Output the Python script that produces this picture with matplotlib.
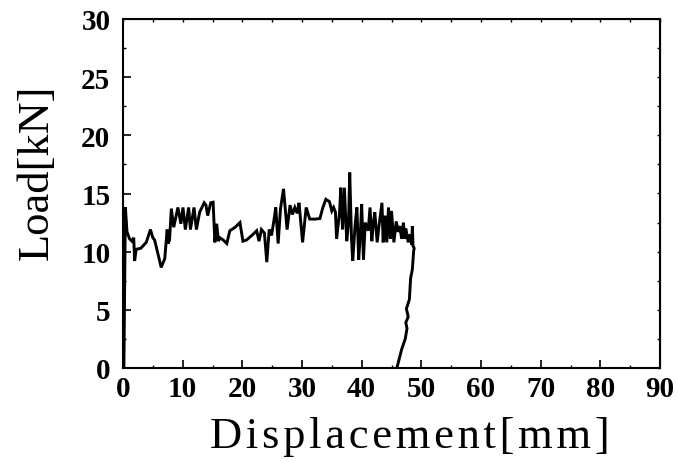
import matplotlib
matplotlib.use("Agg")
import matplotlib.pyplot as plt
from matplotlib.ticker import MultipleLocator

# Data (displacement [mm], load [kN])
disp = [0.15, 0.3, 0.4, 0.67, 1.1, 1.5, 1.8, 1.95, 2.2, 3.0, 3.9, 4.6, 5.0, 5.3, 6.4, 7.0, 7.4, 7.55,
        7.8, 8.1, 8.5, 9.2, 9.7, 10.05, 10.45, 11.0, 11.3, 11.9, 12.3, 12.85, 13.6, 13.9, 14.2, 14.7,
        15.1, 15.4, 15.7, 16.0, 16.2, 16.8, 17.4, 17.9, 18.8, 19.6, 20.1, 20.7, 21.6, 22.4, 22.8, 23.2,
        23.7, 24.1, 24.5, 24.9, 25.3, 25.6, 26.0, 26.4, 26.9, 27.5, 28.0, 28.4, 28.8, 29.2, 29.5, 30.1,
        30.7, 31.0, 31.3, 32.2, 33.0, 33.5, 34.0, 34.6, 35.0, 35.3, 35.6, 35.8, 36.3, 36.5, 36.8, 37.1,
        37.5, 37.8, 38.0, 38.3, 38.5, 38.9, 39.2, 39.5, 39.8, 40.0, 40.3, 40.6, 41.1, 41.4, 41.7, 41.95,
        42.2, 42.6, 42.9, 43.4, 43.6, 43.9, 44.2, 44.5, 44.8, 45.0, 45.4, 45.8, 46.1, 46.4, 46.7, 47.0,
        47.2, 47.4, 47.8, 48.1, 48.4, 48.5, 48.6, 48.8, 48.7, 48.5, 48.2, 48.0, 47.5, 47.8, 47.4, 47.6,
        47.3, 46.7, 46.3, 46.6, 46.2, 45.9]
load = [0.0, 8.0, 13.8, 11.7, 11.1, 10.9, 11.2, 9.2, 10.2, 10.3, 10.8, 11.9, 11.2, 11.0, 8.65, 9.4, 11.9, 10.7,
        11.0, 13.7, 12.1, 13.8, 12.4, 13.8, 11.9, 13.8, 11.9, 13.8, 11.9, 13.4, 14.2, 14.0, 13.1, 14.2,
        14.25, 10.8, 12.4, 10.9, 11.2, 11.0, 10.7, 11.8, 12.1, 12.5, 10.9, 11.0, 11.4, 11.8, 10.9, 11.9,
        11.6, 9.1, 11.9, 11.4, 12.7, 13.8, 10.7, 13.7, 15.4, 11.9, 14.0, 13.2, 13.8, 13.3, 14.2, 10.8,
        13.8, 13.3, 12.8, 12.8, 12.85, 13.8, 14.5, 14.3, 13.5, 13.8, 13.4, 11.1, 13.4, 15.5, 11.9, 15.5,
        10.9, 12.5, 16.8, 11.1, 9.2, 12.3, 13.8, 9.3, 11.8, 14.1, 9.3, 12.5, 11.8, 13.8, 10.9, 12.4,
        13.4, 10.8, 12.2, 14.2, 10.8, 13.1, 10.8, 13.8, 11.1, 13.5, 10.8, 12.6, 11.7, 12.2, 11.1, 12.5,
        11.1, 12.0, 10.8, 11.5, 10.6, 12.2, 10.5, 10.3, 10.0, 8.5, 7.7, 5.9, 5.1, 4.4, 3.9, 3.4,
        2.5, 1.6, 0.8, 1.4, 0.6, 0.0]

x_ticks = [0, 10, 20, 30, 40, 50, 60, 70, 80, 90]
y_ticks = [0, 5, 10, 15, 20, 25, 30]

serif = ['Liberation Serif', 'DejaVu Serif']
plt.rcParams['font.family'] = serif

W, H = 678, 464
fig = plt.figure(figsize=(W / 100, H / 100), dpi=100)
ax = fig.add_axes([123 / W, 1 - 369 / H, (660 - 123) / W, (369 - 20) / H])

ax.plot(disp, load, color='black', lw=2.1, solid_joinstyle='miter')

ax.set_xlim(0, 90)
ax.set_ylim(0, 30)
ax.set_xticks(x_ticks)
ax.set_yticks(y_ticks)
ax.xaxis.set_minor_locator(MultipleLocator(5))
ax.yaxis.set_minor_locator(MultipleLocator(2.5))
ax.tick_params(which='major', direction='in', length=6, width=1.2, labelsize=21, pad=5)
ax.tick_params(axis='y', which='major', pad=9)
ax.tick_params(which='minor', direction='in', length=2.2, width=1.0)
for lab in ax.get_xticklabels() + ax.get_yticklabels():
    lab.set_fontweight('bold')
for s in ax.spines.values():
    s.set_linewidth(1.5)

# small ticks on top and right
secx = ax.secondary_xaxis('top')
secx.set_xticks(x_ticks)
secx.xaxis.set_minor_locator(MultipleLocator(5))
secx.tick_params(which='both', direction='in', length=2.2, width=1.0, labeltop=False)
secy = ax.secondary_yaxis('right')
secy.set_yticks(y_ticks)
secy.yaxis.set_minor_locator(MultipleLocator(2.5))
secy.tick_params(which='both', direction='in', length=2.2, width=1.0, labelright=False)

fig.text(410 / W, 1 - 448 / H, "\u200a".join("Displacement[mm]"), ha='center', va='baseline',
         fontsize=32, family=serif)
fig.text(37 / W, 1 - 172 / H, "Load[kN]", ha='center', va='center', rotation=90,
         fontsize=32, family=serif)

fig.savefig('out.png', dpi=100)
